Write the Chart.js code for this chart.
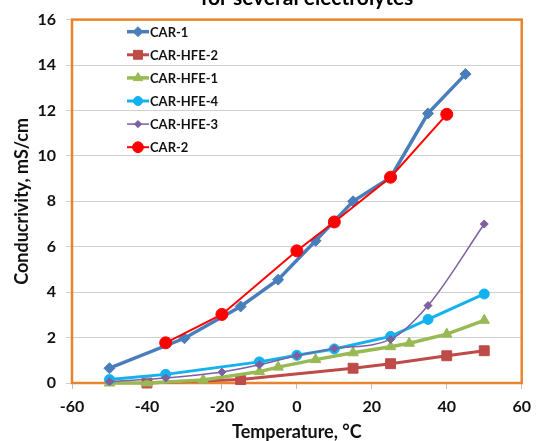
<!DOCTYPE html>
<html>
<head>
<meta charset="utf-8">
<style>
  html, body { margin: 0; padding: 0; background: #fff; overflow: hidden; }
  #wrap { position: relative; width: 539px; height: 441px; }
</style>
<script src="https://cdn.jsdelivr.net/npm/chart.js@4.4.1/dist/chart.umd.min.js"></script>
</head>
<body>
<div id="wrap"><canvas id="cond" width="539" height="441"></canvas></div>
<script>
// series data
const seriesNames = ['CAR-1', 'CAR-HFE-2', 'CAR-HFE-1', 'CAR-HFE-4', 'CAR-HFE-3', 'CAR-2'];

const car1Temp = [-50, -30, -15, -5, 5, 15, 25, 35, 45];
const car1Cond = [0.65, 1.97, 3.37, 4.55, 6.26, 8.0, 9.05, 11.87, 13.6];

const hfe2Temp = [-40, -15, 15, 25, 40, 50];
const hfe2Cond = [0.0, 0.15, 0.65, 0.85, 1.2, 1.42];

const hfe1Temp = [-50, -40, -25, -10, -5, 5, 15, 25, 30, 40, 50];
const hfe1Cond = [0.0, 0.0, 0.13, 0.5, 0.7, 1.03, 1.33, 1.6, 1.75, 2.15, 2.76];

const hfe4Temp = [-50, -35, -10, 0, 10, 25, 35, 50];
const hfe4Cond = [0.15, 0.38, 0.93, 1.22, 1.5, 2.05, 2.8, 3.92];

const hfe3Temp = [-50, -35, -20, -10, 0, 10, 25, 35, 50];
const hfe3Cond = [0.06, 0.22, 0.48, 0.8, 1.2, 1.52, 1.92, 3.41, 7.0];

const car2Temp = [-35, -20, 0, 10, 25, 40];
const car2Cond = [1.77, 3.02, 5.82, 7.09, 9.06, 11.83];

const xTicks = [-60, -40, -20, 0, 20, 40, 60];
const yTicks = [0, 2, 4, 6, 8, 10, 12, 14, 16];

const chartTitle = 'for several electrolytes';
const xTitle = 'Temperature, °C';
const yTitle = 'Conducrivity, mS/cm';

function pts(xs, ys) {
  return xs.map((x, i) => ({ x: x, y: ys[i] }));
}

const styles = [
  { color: '#4A7EBB', width: 3.5, shape: 'rectRot', r: 5.5 },
  { color: '#BE4B48', width: 3, shape: 'rect', r: 7 },
  { color: '#98B954', width: 3.5, shape: 'triangle', r: 6 },
  { color: '#12B2EE', width: 3, shape: 'circle', r: 5 },
  { color: '#7D60A0', width: 1.5, shape: 'rectRot', r: 4 },
  { color: '#FF0000', width: 2, shape: 'circle', r: 6 }
];

const allData = [
  pts(car1Temp, car1Cond),
  pts(hfe2Temp, hfe2Cond),
  pts(hfe1Temp, hfe1Cond),
  pts(hfe4Temp, hfe4Cond),
  pts(hfe3Temp, hfe3Cond),
  pts(car2Temp, car2Cond)
];

const datasets = seriesNames.map((name, i) => ({
  label: name,
  data: allData[i],
  borderColor: styles[i].color,
  backgroundColor: styles[i].color,
  borderWidth: styles[i].width,
  pointStyle: styles[i].shape,
  pointRadius: styles[i].r,
  pointBorderWidth: 1,
  tension: 0,
  cubicInterpolationMode: name === 'CAR-HFE-3' ? 'monotone' : 'default',
  clip: false,
  order: seriesNames.length - i
}));

// orange frame round the plot, under the lines
const framePlugin = {
  id: 'frame',
  beforeDatasetsDraw(chart) {
    const a = chart.chartArea;
    const ctx = chart.ctx;
    ctx.save();
    ctx.strokeStyle = '#E9842C';
    ctx.lineWidth = 2.5;
    ctx.strokeRect(a.left, a.top, a.right - a.left, a.bottom - a.top);
    ctx.restore();
  }
};

// legend inside the plot + cut-off title
const legendPlugin = {
  id: 'insideLegend',
  afterDraw(chart) {
    const ctx = chart.ctx;
    ctx.save();
    ctx.font = 'bold 21px Lato';
    ctx.fillStyle = '#000';
    ctx.textAlign = 'center';
    ctx.textBaseline = 'alphabetic';
    ctx.fillText(chartTitle, 307, 5);

    chart.data.datasets.forEach((ds, i) => {
      const y = 31.7 + i * 23.1;
      ctx.strokeStyle = ds.borderColor;
      ctx.lineWidth = ds.borderWidth;
      ctx.beginPath();
      ctx.moveTo(127, y);
      ctx.lineTo(149, y);
      ctx.stroke();
      ctx.fillStyle = ds.backgroundColor;
      ctx.lineWidth = 1;
      Chart.helpers.drawPoint(ctx, {
        pointStyle: ds.pointStyle,
        radius: ds.pointRadius * 0.9,
        rotation: 0,
        borderWidth: 1
      }, 138, y);
      ctx.fillStyle = '#111';
      ctx.font = 'bold 13px Lato';
      ctx.textAlign = 'left';
      ctx.textBaseline = 'middle';
      ctx.fillText(ds.label, 150, y + 1);
    });
    ctx.restore();
  }
};

new Chart(document.getElementById('cond'), {
  type: 'line',
  data: { datasets: datasets },
  options: {
    responsive: false,
    animation: false,
    layout: { padding: { top: 16, right: 11, bottom: 0, left: 0 } },
    plugins: {
      legend: { display: false },
      tooltip: { enabled: false }
    },
    scales: {
      x: {
        type: 'linear',
        min: -60,
        max: 60,
        afterFit: s => { s.height = 58; },
        afterBuildTicks: s => { s.ticks = xTicks.map(v => ({ value: v })); },
        grid: { drawOnChartArea: false, color: '#BFBFBF', tickLength: 6 },
        border: { display: false },
        ticks: { padding: 8, color: '#111', font: { family: 'Lato', size: 16, weight: 'bold' } },
        title: {
          display: true,
          text: xTitle,
          color: '#111',
          font: { family: 'Lato', size: 18, weight: 'bold', lineHeight: 1 },
          padding: { top: 0, bottom: 0 }
        }
      },
      y: {
        type: 'linear',
        min: 0,
        max: 16,
        afterFit: s => { s.width = 72; },
        afterBuildTicks: s => { s.ticks = yTicks.map(v => ({ value: v })); },
        grid: { color: '#D0D0D0', lineWidth: 1, tickLength: 6 },
        border: { display: false },
        ticks: { padding: 10, color: '#111', font: { family: 'Lato', size: 16, weight: 'bold' } },
        title: {
          display: true,
          text: yTitle,
          color: '#111',
          font: { family: 'Lato', size: 18, weight: 'bold', lineHeight: 1 },
          padding: { top: 13, bottom: 0 }
        }
      }
    }
  },
  plugins: [framePlugin, legendPlugin]
});
</script>
</body>
</html>
